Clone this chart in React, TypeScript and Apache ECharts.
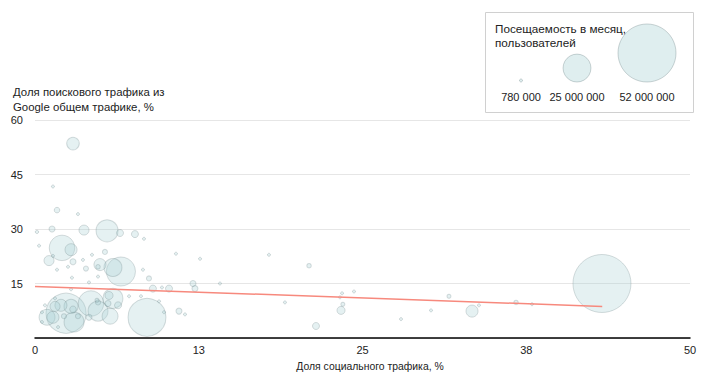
import React, { useEffect, useRef } from "react";
import * as echarts from "echarts";

// Social share (%), Google search share (%), monthly visitors (millions)
const socialShare = [
  1.37, 1.68, 3.28, 0.15, 1.3, 3.74, 5.5, 6.49, 7.63, 8.32,
  0.31, 2.06, 2.75, 5.34, 4.35, 1.07, 1.37, 2.9, 3.66, 4.96,
  5.95, 6.56, 4.81, 3.89, 1.68, 2.52, 8.24, 2.82, 4.81, 4.12,
  8.7, 9.0, 9.69, 10.23, 10.76, 12.6, 12.06, 12.21, 14.12, 2.75,
  7.18, 8.09, 9.47, 9.85, 10.99, 11.45, 8.55, 2.37, 4.27, 5.95,
  5.65, 4.73, 4.81, 5.57, 6.34, 4.81, 5.73, 4.12, 3.28, 2.9,
  2.75, 2.98, 1.98, 1.53, 1.37, 0.92, 0.76, 0.53, 0.53, 1.76,
  2.21, 1.53, 2.9, 17.86, 20.92, 19.08, 21.45, 23.36, 23.5, 23.28,
  23.44, 24.35, 27.94, 30.23, 31.6, 33.36, 33.89, 36.72, 37.94, 43.28,
];
const searchShare = [
  41.7, 35.2, 34.1, 29.2, 30.0, 29.7, 29.5, 28.9, 28.6, 27.3,
  25.4, 24.8, 24.3, 23.7, 22.9, 21.3, 22.6, 21.0, 21.5, 20.2,
  19.4, 18.3, 19.6, 19.1, 18.8, 19.6, 18.8, 16.6, 16.9, 15.3,
  16.4, 13.6, 13.9, 13.6, 23.2, 21.8, 15.0, 13.6, 15.0, 13.4,
  11.5, 11.5, 10.1, 7.1, 7.4, 6.5, 5.7, 6.8, 9.5, 10.9,
  11.7, 10.4, 9.8, 9.5, 9.0, 7.4, 6.0, 5.7, 6.0, 7.9,
  8.7, 4.4, 9.0, 8.7, 5.7, 5.7, 9.0, 7.1, 4.4, 3.0,
  6.0, 10.9, 53.5, 22.9, 19.9, 9.8, 3.3, 7.6, 9.3, 11.2,
  12.3, 12.8, 5.2, 7.6, 11.5, 7.4, 9.0, 9.8, 9.3, 15.0,
];
const visitorsM = [
  0.8, 5, 0.8, 3, 5.4, 9, 19.7, 6.3, 6.3, 0.8,
  0.8, 22.8, 10.8, 4.5, 0.8, 9, 0.8, 5.4, 0.8, 10.8,
  16.1, 26, 4, 4.5, 0.8, 0.8, 0.8, 0.8, 0.8, 0.8,
  4.5, 6.3, 0.8, 6.3, 0.8, 0.8, 5.4, 5.4, 0.8, 0.8,
  0.8, 0.8, 0.8, 0.8, 5.4, 0.8, 34, 36, 22.8, 17.9,
  7.2, 3.6, 4.5, 5.4, 6.3, 17.9, 14.3, 5.4, 4.5, 5.9,
  12.6, 17.9, 10.8, 9, 10.8, 14.3, 0.8, 0.8, 2, 0.8,
  4.5, 0.8, 11.3, 0.8, 4, 0.8, 6.3, 7.2, 3.6, 0.8,
  0.8, 0.8, 0.8, 0.8, 3.6, 10.8, 0.8, 4, 0.8, 52,
];

// Trend line endpoints [social %, search %]
const trendX = [0, 43.3];
const trendY = [14.2, 8.7];

const xTicks = [0, 12.5, 25, 37.5, 50];
const yTicks = [0, 15, 30, 45, 60];

const legendValues = [780000, 25000000, 52000000];
const legendLabels = ["780 000", "25 000 000", "52 000 000"];

const FONT = 'Arial, "Liberation Sans", Helvetica, sans-serif';
const FILL = "rgba(170, 210, 214, 0.38)";
const STROKE = "rgba(100, 120, 125, 0.32)";

const MAX_DIAM = 58; // px diameter for 52M
const diamM = (m: number) => Math.max(3, (MAX_DIAM * m) / 52);

export default function App() {
  const ref = useRef<HTMLDivElement>(null);

  useEffect(() => {
    if (!ref.current) return;
    const chart = echarts.init(ref.current, undefined, { renderer: "svg" });

    const points = socialShare
      .map((x, i) => [x, searchShare[i], visitorsM[i]])
      .sort((a, b) => b[2] - a[2]);

    const legendCx = [521, 577, 647];
    const legendBottom = 82;
    const legendGraphics: any[] = [];
    legendValues.forEach((v, i) => {
      const r = diamM(v / 1e6) / 2;
      legendGraphics.push({
        type: "circle",
        shape: { cx: legendCx[i], cy: legendBottom - r, r },
        style: { fill: FILL, stroke: STROKE, lineWidth: 1 },
      });
      legendGraphics.push({
        type: "text",
        x: legendCx[i],
        y: 97,
        style: {
          text: legendLabels[i],
          fill: "#222",
          font: `11px ${FONT}`,
          textAlign: "center",
          textVerticalAlign: "middle",
        },
      });
    });

    chart.setOption({
      animation: false,
      grid: { left: 35, right: 30, top: 120, bottom: 42, containLabel: false },
      xAxis: {
        type: "value",
        min: xTicks[0],
        max: xTicks[xTicks.length - 1],
        interval: xTicks[1] - xTicks[0],
        axisLine: { show: true, lineStyle: { color: "#000", width: 1.5 } },
        axisTick: { show: false },
        splitLine: { show: false },
        axisLabel: {
          color: "#222",
          fontSize: 11,
          fontFamily: FONT,
          margin: 6,
          formatter: (v: number) => String(Math.round(v)),
        },
      },
      yAxis: {
        type: "value",
        min: yTicks[0],
        max: yTicks[yTicks.length - 1],
        interval: yTicks[1] - yTicks[0],
        axisLine: { show: false },
        axisTick: { show: false },
        splitLine: { show: true, lineStyle: { color: "#e6e6e6", width: 1 } },
        axisLabel: {
          color: "#222",
          fontSize: 11,
          fontFamily: FONT,
          margin: 12,
          showMinLabel: false,
        },
      },
      series: [
        {
          type: "scatter",
          data: points,
          symbolSize: (v: number[]) => diamM(v[2]),
          itemStyle: { color: FILL, borderColor: STROKE, borderWidth: 1 },
          z: 2,
        },
        {
          type: "line",
          data: trendX.map((x, i) => [x, trendY[i]]),
          showSymbol: false,
          symbol: "none",
          lineStyle: { color: "#f7897d", width: 1.5 },
          z: 3,
        },
      ],
      graphic: [
        {
          type: "text",
          x: 13,
          y: 92,
          style: {
            text: "Доля поискового трафика из",
            fill: "#222",
            font: `11.4px ${FONT}`,
            textVerticalAlign: "middle",
          },
        },
        {
          type: "text",
          x: 13,
          y: 107,
          style: {
            text: "Google общем трафике, %",
            fill: "#222",
            font: `11.4px ${FONT}`,
            textVerticalAlign: "middle",
          },
        },
        {
          type: "text",
          x: 370,
          y: 366,
          style: {
            text: "Доля социального трафика, %",
            fill: "#222",
            font: `10.4px ${FONT}`,
            textAlign: "center",
            textVerticalAlign: "middle",
          },
        },
        {
          type: "rect",
          shape: { x: 485.5, y: 12.5, width: 208, height: 100 },
          style: { fill: "#fff", stroke: "#d0d0d0", lineWidth: 1 },
        },
        {
          type: "text",
          x: 495,
          y: 28,
          style: {
            text: "Посещаемость в месяц,",
            fill: "#222",
            font: `11.7px ${FONT}`,
            textVerticalAlign: "middle",
          },
        },
        {
          type: "text",
          x: 495,
          y: 42,
          style: {
            text: "пользователей",
            fill: "#222",
            font: `11.7px ${FONT}`,
            textVerticalAlign: "middle",
          },
        },
        ...legendGraphics,
      ],
    });

    return () => chart.dispose();
  }, []);

  return (
    <div
      ref={ref}
      style={{ position: "fixed", left: 0, top: 0, width: 720, height: 380, background: "#fff" }}
    />
  );
}
